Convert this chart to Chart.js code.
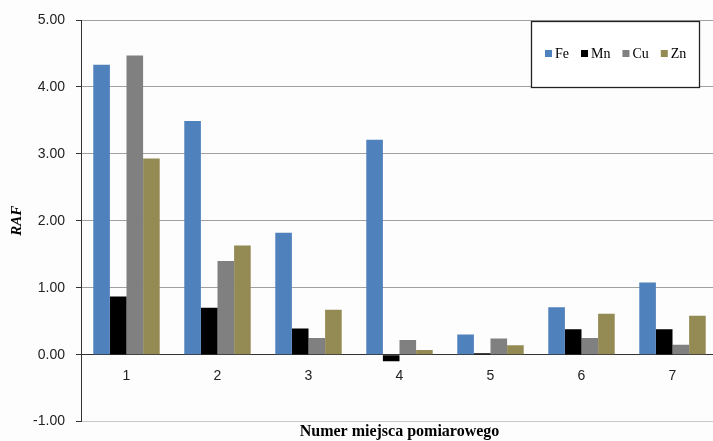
<!DOCTYPE html>
<html lang="pl">
<head>
  <meta charset="UTF-8">
  <title>RAF</title>
  <script src="https://cdn.jsdelivr.net/npm/chart.js"></script>
  <style>
    html, body {
      margin: 0;
      padding: 0;
      background: #fdfdfd;
      overflow: hidden;
    }
    #wrap {
      width: 713px;
      height: 441px;
      overflow: hidden;
    }
    #box {
      width: 718px;
      height: 441px;
    }
  </style>
</head>
<body>
  <div id="wrap">
    <div id="box"><canvas id="chart"></canvas></div>
  </div>

  <script>
    const places = ["1", "2", "3", "4", "5", "6", "7"];
    const fe = [4.33, 3.49, 1.82, 3.21, 0.30, 0.71, 1.08];
    const mn = [0.87, 0.70, 0.39, -0.10, 0.02, 0.38, 0.38];
    const cu = [4.47, 1.40, 0.25, 0.22, 0.24, 0.25, 0.15];
    const zn = [2.93, 1.63, 0.67, 0.07, 0.14, 0.61, 0.58];

    const serif = "'Liberation Serif', 'DejaVu Serif', serif";
    const sans = "'Liberation Sans', Arial, sans-serif";

    // legenda w ramce wewnątrz wykresu (jak w Excelu)
    const boxLegend = {
      id: "boxLegend",
      afterDraw(chart) {
        const items = Chart.defaults.plugins.legend.labels.generateLabels(chart);
        const c = chart.ctx;
        const area = chart.chartArea;
        const frame = { left: 531, top: area.top + 1, w: 168, h: 66 };
        c.save();
        c.fillStyle = "#ffffff";
        c.fillRect(frame.left, frame.top, frame.w, frame.h);
        c.strokeStyle = "#222";
        c.lineWidth = 1.3;
        c.strokeRect(frame.left + 0.5, frame.top + 0.5, frame.w, frame.h);
        c.font = "14px " + serif;
        c.textBaseline = "middle";
        let x = frame.left + 14;
        const y = frame.top + 33;
        items.forEach((it) => {
          c.fillStyle = it.fillStyle;
          c.fillRect(x, y - 4, 7, 7);
          c.fillStyle = "#000";
          c.fillText(it.text, x + 10, y);
          x += 10 + c.measureText(it.text).width + 12;
        });
        c.restore();
      }
    };

    new Chart(document.getElementById("chart"), {
      type: "bar",
      data: {
        labels: places,
        datasets: [
          { label: "Fe", data: fe, backgroundColor: "#4F81BD" },
          { label: "Mn", data: mn, backgroundColor: "#000000" },
          { label: "Cu", data: cu, backgroundColor: "#808080" },
          { label: "Zn", data: zn, backgroundColor: "#948A54" }
        ]
      },
      options: {
        responsive: true,
        maintainAspectRatio: false,
        animation: false,
        layout: { padding: { top: 20, right: 0, left: 0, bottom: 0 } },
        datasets: {
          bar: { categoryPercentage: 0.73, barPercentage: 1.0 }
        },
        scales: {
          x: {
            position: { y: 0 },
            grid: { display: false, drawTicks: false },
            border: { display: true, color: "#333", width: 1 },
            ticks: { color: "#222", font: { family: sans, size: 14 }, padding: 13 }
          },
          xt: {
            type: "category",
            labels: places,
            position: "bottom",
            grid: { display: false, drawTicks: false },
            border: { display: false },
            ticks: { display: false },
            title: {
              display: true,
              text: "Numer miejsca pomiarowego",
              color: "#000",
              padding: { top: 1, bottom: 0 },
              font: { family: serif, size: 16, weight: "bold", lineHeight: 1.1 }
            }
          },
          y: {
            min: -1,
            max: 5,
            afterFit: (scale) => { scale.width = 81; },
            ticks: {
              stepSize: 1,
              color: "#222",
              padding: 11,
              font: { family: sans, size: 14 },
              callback: (v) => Number(v).toFixed(2)
            },
            grid: {
              color: (ctx) => ctx.tick && ctx.tick.value === 0 ? "#333" : (ctx.tick && ctx.tick.value === -1 ? "#c8c8c8" : "#a0a0a0"),
              tickColor: "#333",
              tickLength: 5,
              lineWidth: 1
            },
            border: { display: true, color: "#333", width: 1 },
            title: {
              display: true,
              text: "RAF",
              color: "#000",
              padding: { top: 8, bottom: 0 },
              font: { family: serif, size: 15, weight: "bold", style: "italic" }
            }
          }
        },
        plugins: {
          legend: { display: false },
          tooltip: { enabled: false }
        }
      },
      plugins: [boxLegend]
    });
  </script>
</body>
</html>
